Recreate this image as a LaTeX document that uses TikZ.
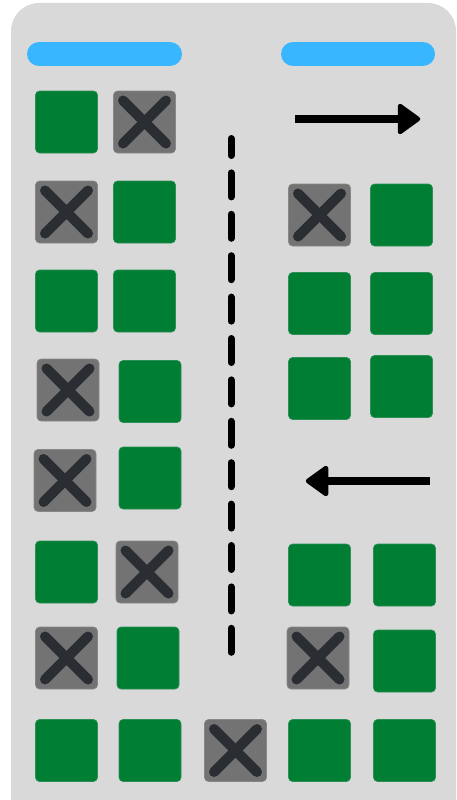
\documentclass[tikz,border=0pt]{standalone}
\usetikzlibrary{arrows.meta}
\definecolor{panelgray}{HTML}{D9D9D9}
\definecolor{okgreen}{HTML}{007E34}
\definecolor{boxgray}{HTML}{737373}
\definecolor{xdark}{HTML}{2A2E33}
\definecolor{barblue}{HTML}{38B6FF}
\tikzset{
  gsq/.style={fill=okgreen, draw=okgreen!80!panelgray, line width=0.6pt, rounded corners=4pt,
    minimum size=62pt, inner sep=0pt, outer sep=0pt},
  xsq/.style={fill=boxgray, draw=boxgray!80!panelgray, line width=0.6pt, rounded corners=4pt,
    minimum size=62pt, inner sep=0pt, outer sep=0pt,
    path picture={
      \draw[xdark, line width=10pt, line cap=round]
        ([xshift=9.5pt,yshift=9.5pt]path picture bounding box.south west) --
        ([xshift=-9.5pt,yshift=-9.5pt]path picture bounding box.north east);
      \draw[xdark, line width=10pt, line cap=round]
        ([xshift=9.5pt,yshift=-9.5pt]path picture bounding box.north west) --
        ([xshift=-9.5pt,yshift=9.5pt]path picture bounding box.south east);
    }},
  bluebar/.style={barblue, line width=24pt, line cap=round},
  flowline/.style={black, line width=8pt},
  flowhead/.style={fill=black, draw=black, line width=4.5pt, line join=round},
  divider/.style={black, line width=7pt, line cap=round, dash pattern=on 24pt off 17.4pt, dash phase=7pt}
}
\begin{document}
\begin{tikzpicture}[x=1pt,y=-1pt]
\useasboundingbox (0,0) rectangle (457,800);
\clip (0,0) rectangle (457,800);
\fill[white] (0,0) rectangle (457,800);
\fill[panelgray, rounded corners=28pt] (11,3) rectangle (456,840);

% header bars
\coordinate (lb1) at (39,54); \coordinate (lb2) at (170,54);
\coordinate (rb1) at (293,54); \coordinate (rb2) at (423,54);
\draw[bluebar] (lb1) -- (lb2);
\draw[bluebar] (rb1) -- (rb2);

% divider
\coordinate (d1) at (231,138.5); \coordinate (d2) at (231,654.5);
\draw[divider] (d1) -- (d2);

% arrows
\coordinate (ra1) at (295,119); \coordinate (ra2) at (401,119);
\draw[flowline] (ra1) -- (ra2);
\draw[flowhead] (400,106) -- (418,119) -- (400,132) -- cycle;
\coordinate (la1) at (430,481); \coordinate (la2) at (325,481);
\draw[flowline] (la1) -- (la2);
\draw[flowhead] (326,468) -- (308,481) -- (326,494) -- cycle;

% left side squares
\node[gsq] (l11) at (66.5,122) {};
\node[xsq] (l12) at (144.5,122) {};
\node[xsq] (l21) at (66.5,212) {};
\node[gsq] (l22) at (144.5,212) {};
\node[gsq] (l31) at (66.5,301) {};
\node[gsq] (l32) at (144.5,301) {};
\node[xsq] (l41) at (68,390) {};
\node[gsq] (l42) at (150,391.5) {};
\node[xsq] (l51) at (65,480.5) {};
\node[gsq] (l52) at (150,478) {};
\node[gsq] (l61) at (66.5,572) {};
\node[xsq] (l62) at (147,572) {};
\node[xsq] (l71) at (66.5,658) {};
\node[gsq] (l72) at (148,658) {};
\node[gsq] (l81) at (66.5,750.5) {};
\node[gsq] (l82) at (150,750.5) {};
\node[xsq] (m8) at (235.5,750.5) {};

% right side squares
\node[xsq] (r21) at (319.5,215) {};
\node[gsq] (r22) at (401.5,215) {};
\node[gsq] (r31) at (319.5,303.5) {};
\node[gsq] (r32) at (401.5,303.5) {};
\node[gsq] (r41) at (319.5,388.5) {};
\node[gsq] (r42) at (401.5,386.5) {};
\node[gsq] (r61) at (319.5,575) {};
\node[gsq] (r62) at (404.5,575) {};
\node[xsq] (r71) at (318,658) {};
\node[gsq] (r72) at (404.5,661) {};
\node[gsq] (r81) at (319.5,750.5) {};
\node[gsq] (r82) at (404.5,750.5) {};
\end{tikzpicture}
\end{document}
